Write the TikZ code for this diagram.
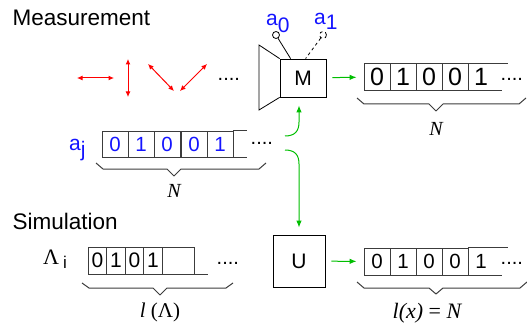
\documentclass[tikz,border=0pt]{standalone}
\usepackage{fontspec}
\setmainfont{Liberation Sans}
\newfontfamily\seriffont{Liberation Serif}
\usetikzlibrary{arrows.meta}
\definecolor{mred}{RGB}{255,0,0}
\definecolor{mgreen}{RGB}{0,190,0}
\definecolor{mblue}{RGB}{20,20,255}
\definecolor{regc}{RGB}{60,60,60}
\begin{document}
\begin{tikzpicture}[x=1pt,y=-1pt,
  fs/.style={font=\fontsize{#1}{#1}\selectfont},
  title/.style={anchor=base west,fs=22.5},
  box/.style={draw=black,line width=0.8pt,fill=white,inner sep=0pt,fs=21},
  cell/.style={draw=regc,line width=0.9pt,inner sep=0pt,minimum width=26pt,minimum height=#1},
  bigcell/.style={cell=27pt,fs=25},
  midcell/.style={cell=27pt,fs=20.5},
  smallcell/.style={draw=regc,line width=0.9pt,inner sep=0pt,minimum width=18.5pt,minimum height=27pt,fs=21},
  lastdigit/.style={inner sep=0pt,fs=#1},
  regline/.style={draw=regc,line width=0.9pt},
  brace/.style={draw=regc,line width=1pt,line join=round},
  dotsnode/.style={anchor=base west,inner sep=0pt,fs=20},
  polar/.style={draw=mred,line width=1pt,arrows={Latex[length=5.5pt,width=5pt]-Latex[length=5.5pt,width=5pt]}},
  garrow/.style={draw=mgreen,line width=1pt,-{Latex[length=7pt,width=5.5pt]}},
  lab/.style={text=mblue,fs=21,anchor=base west,inner sep=0pt},
  mathlab/.style={font=\seriffont\fontsize{#1}{#1}\selectfont,inner sep=0pt}
]
\useasboundingbox (0,0) rectangle (527,326);

% titles
\node[title] (tmeas) at (9,26) {Measurement};
\node[title] (tsim) at (9,229) {Simulation};

% polarisation arrows
\draw[polar] (77,78) -- (114,78);
\draw[polar] (128,59) -- (128,97);
\draw[polar] (148,64) -- (174,91);
\draw[polar] (207,64) -- (180,91);
\node[dotsnode] (d0) at (217.5,80.5) {....};

% measurement apparatus
\node[box,minimum width=46pt,minimum height=38pt] (M) at (303,78) {M};
\draw[line width=0.8pt] (M.north west) -- (259,45) -- (259,110) -- (M.south west);
\node[draw=black,circle,line width=0.8pt,minimum size=7pt,inner sep=0pt] (ant0) at (276,35) {};
\node[draw=black,circle,dashed,line width=0.8pt,minimum size=7pt,inner sep=0pt] (ant1) at (323,35) {};
\draw[line width=0.8pt] (ant0) -- ([xshift=11pt]M.north west);
\draw[line width=0.8pt,dashed] (ant1) -- ([xshift=26pt]M.north west);
\node[lab] (la0) at (266,26) {a\raisebox{-7pt}{0}};
\node[lab] (la1) at (314,25) {a\raisebox{-5pt}{1}};

% output register of M
\node[bigcell] (m1) at (377,77) {0};
\node[bigcell] (m2) at (403,77) {1};
\node[bigcell] (m3) at (429,77) {0};
\node[bigcell] (m4) at (455,77) {0};
\node[lastdigit=25] (m5) at (481,77) {1};
\draw[regline] (m4.north east) -- ++(40,0);
\draw[regline] (m4.south east) -- ++(34,0);
\node[dotsnode] (d1) at (500.5,80.5) {....};
\draw[brace] (357,98) -- (364,104) -- (429,104) -- (436,111) -- (443,104) -- (519,104) -- (526,98);
\node[mathlab=20] (nm) at (436,129) {\itshape N};
\draw[garrow,shorten <=6pt,shorten >=7pt] (M) -- (m1);

% input register a_j
\node[lab] (laj) at (69,150) {a\raisebox{-6pt}{j}};
\node[midcell,minimum height=26pt,text=mblue] (j1) at (115,144) {0};
\node[midcell,minimum height=26pt,text=mblue] (j2) at (141,144) {1};
\node[midcell,minimum height=26pt,text=mblue] (j3) at (167,144) {0};
\node[midcell,minimum height=26pt,text=mblue] (j4) at (194,144) {0};
\node[midcell,minimum height=26pt,text=mblue] (j5) at (220,144) {1};
\draw[regline] (j5.north east) -- ++(14,0);
\draw[regline] (j5.south east) -- ++(14,0);
\node[dotsnode] (d2) at (250.5,144.5) {....};
\draw[brace] (96,163) -- (103,169) -- (167,169) -- (174,176) -- (181,169) -- (259,169) -- (266,163);
\node[mathlab=20] (nj) at (174,191) {\itshape N};

% green connectors
\coordinate (c1) at (285,136);
\coordinate (c2) at (299,122);
\coordinate (c3) at (285,150);
\coordinate (c4) at (299,164);
\draw[garrow,shorten >=8pt] (c1) .. controls (295,136) and (299,131) .. (c2) -- (c2 |- M.south);

% simulation
\node[box,minimum size=52pt] (U) at (299,261) {U};
\draw[garrow,shorten >=7pt] (c3) .. controls (295,150) and (299,155) .. (c4) -- (U.north);

% Lambda register
\node[anchor=base west,inner sep=0pt] (lam) at (43,264) {{\seriffont\fontsize{22}{22}\selectfont Λ}\hspace{4pt}\raisebox{-4pt}{\fontsize{17}{17}\selectfont i}};
\node[smallcell] (l1) at (97.5,260.5) {0};
\node[smallcell] (l2) at (116,260.5) {1};
\node[smallcell] (l3) at (134.5,260.5) {0};
\node[smallcell] (l4) at (153,260.5) {1};
\node[draw=regc,line width=0.9pt,minimum width=32pt,minimum height=27pt,inner sep=0pt] (l5) at (178.2,260.5) {};
\draw[regline] (l5.south east) -- ++(13,0);
\node[dotsnode] (d3) at (216.5,264.5) {....};
\draw[brace] (82,283) -- (89,288) -- (153,288) -- (160,295) -- (167,288) -- (226,288) -- (233,283);
\node[mathlab=21] (nl) at (160,312) {\itshape l\upshape\ (Λ)};

% output register of U
\node[midcell] (u1) at (377,261.5) {0};
\node[midcell] (u2) at (403,261.5) {1};
\node[midcell] (u3) at (429,261.5) {0};
\node[midcell] (u4) at (455,261.5) {0};
\node[lastdigit=20.5] (u5) at (481,261.5) {1};
\draw[regline] (u4.north east) -- ++(40,0);
\draw[regline] (u4.south east) -- ++(34,0);
\node[dotsnode] (d4) at (500.5,264) {....};
\draw[brace] (357,282) -- (364,288) -- (429,288) -- (436,294) -- (443,288) -- (520,288) -- (527,282);
\node[mathlab=22] (nx) at (427,313) {\itshape l(x) \upshape= \itshape N};
\draw[garrow,shorten <=6pt,shorten >=7pt] (U) -- (u1);
\end{tikzpicture}
\end{document}
